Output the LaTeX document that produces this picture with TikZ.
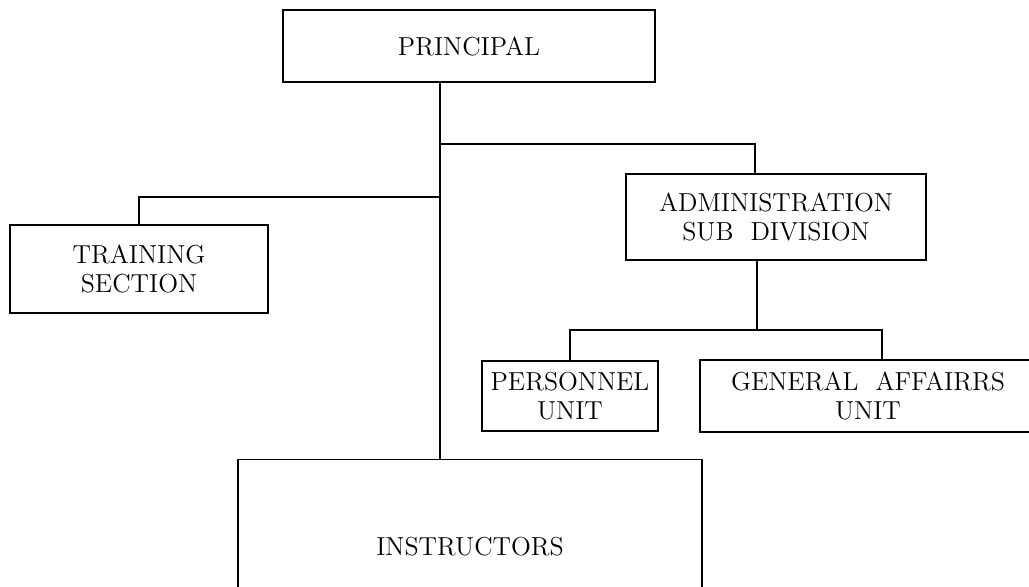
\documentclass[tikz,border=0pt]{standalone}
\usetikzlibrary{positioning}

\begin{document}
\begin{tikzpicture}[x=0.5pt, y=-0.5pt,
  orgbox/.style={draw, line width=0.9pt, align=center, inner sep=0pt, font=\fontsize{13}{14.5}\selectfont}]
  \useasboundingbox (0,0) rectangle (1029,587);
  \node[orgbox, minimum width=186pt, minimum height=36pt] (principal) at (469,46) {PRINCIPAL};
  \node[orgbox, minimum width=129pt, minimum height=44pt] (training) at (139,269) {TRAINING\\SECTION};
  \node[orgbox, minimum width=150pt, minimum height=43pt] (admin) at (776,217) {ADMINISTRATION\\SUB~~DIVISION};
  \node[orgbox, minimum width=88pt, minimum height=35pt] (personnel) at (570,396) {PERSONNEL\\UNIT};
  \node[orgbox, minimum width=168pt, minimum height=36pt] (general) at (868,396) {GENERAL~~AFFAIRRS\\UNIT};
  \node[orgbox, minimum width=232pt, minimum height=87pt] (instructors) at (470,546.5) {INSTRUCTORS};
  \coordinate (trunk) at (440,144);
  \coordinate (tsplit) at (440,197);
  \coordinate (asplit) at (757,330);
  \draw[line width=0.9pt] (principal.south -| trunk) -- (instructors.north -| trunk);
  \draw[line width=0.9pt] (trunk) -| ([xshift=-10.5pt]admin.north);
  \draw[line width=0.9pt] (tsplit) -| (training.north);
  \draw[line width=0.9pt] ([xshift=-9.5pt]admin.south) -- (asplit);
  \draw[line width=0.9pt] (personnel.north) |- (asplit) -| ([xshift=7pt]general.north);
\end{tikzpicture}
\end{document}
